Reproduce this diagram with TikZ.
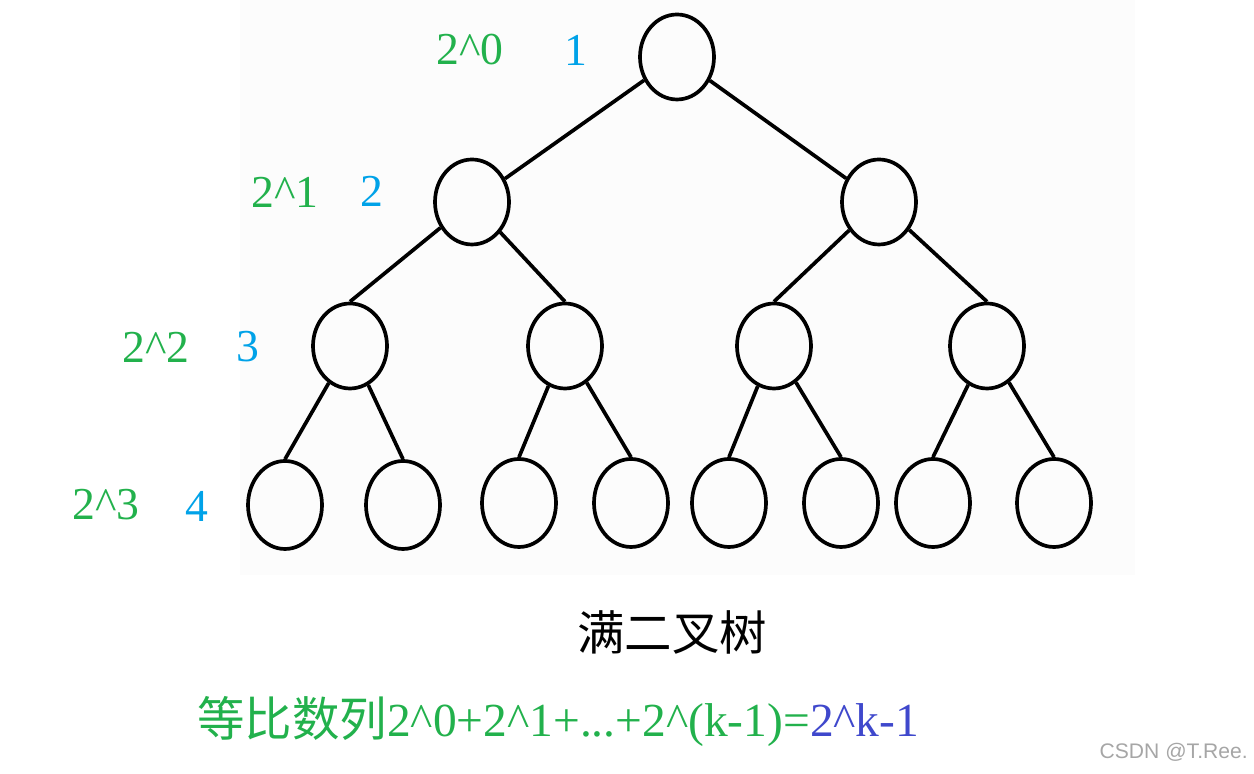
\documentclass[tikz,border=0pt]{standalone}
\usepackage{fontspec}
\setmainfont{Liberation Serif}
\setsansfont{Liberation Sans}
\newfontfamily\cjk{Noto Sans CJK SC}
\usepackage{tikz}
\usetikzlibrary{
    shapes.geometric
}
\definecolor{levgreen}{RGB}{34,177,76}
\definecolor{levblue}{RGB}{0,162,232}
\definecolor{sumblue}{RGB}{63,72,204}
\tikzset{
    vert/.style={ellipse,draw,line width=2.1pt,minimum width=1.48cm,minimum height=1.7cm,inner sep=0pt},
    lev/.style={font=\fontsize{26}{30}\selectfont},
    edge/.style={line width=2.1pt}
}

\begin{document}
\begin{tikzpicture}
%\draw [help lines](0,0) grid (25,15);
\useasboundingbox (0,0) rectangle (25.08,15.48);
\fill [black!1] (4.8,3.98) rectangle (22.7,15.48);
\node [vert] (R) at (13.54,14.34) {};
\node [vert] (A) at (9.44,11.44) {};
\node [vert] (B) at (17.58,11.44) {};
\node [vert] (AA) at (7.0,8.56) {};
\node [vert] (AB) at (11.3,8.56) {};
\node [vert] (BA) at (15.48,8.56) {};
\node [vert] (BB) at (19.74,8.56) {};
\node [vert,minimum height=1.76cm] (AAA) at (5.7,5.38) {};
\node [vert,minimum height=1.76cm] (AAB) at (8.06,5.38) {};
\node [vert,minimum height=1.76cm] (ABA) at (10.38,5.42) {};
\node [vert,minimum height=1.76cm] (ABB) at (12.62,5.42) {};
\node [vert,minimum height=1.76cm] (BAA) at (14.58,5.42) {};
\node [vert,minimum height=1.76cm] (BAB) at (16.82,5.42) {};
\node [vert,minimum height=1.76cm] (BBA) at (18.66,5.42) {};
\node [vert,minimum height=1.76cm] (BBB) at (21.08,5.42) {};
\draw [edge] (R) -- (A);
\draw [edge] (R) -- (B);
\draw [edge] (A) -- (AA.north);
\draw [edge] (A) -- (AB.north);
\draw [edge] (B) -- (BA.north);
\draw [edge] (B) -- (BB.north);
\draw [edge] (AA) -- (AAA.north);
\draw [edge] (AA) -- (AAB.north);
\draw [edge] (AB) -- (ABA.north);
\draw [edge] (AB) -- (ABB.north);
\draw [edge] (BA) -- (BAA.north);
\draw [edge] (BA) -- (BAB.north);
\draw [edge] (BB) -- (BBA.north);
\draw [edge] (BB) -- (BBB.north);
\node [lev,text=levgreen] (P0) at (9.4,14.48) {2\textasciicircum0};
\node [lev,text=levblue] (N1) at (11.52,14.48) {1};
\node [lev,text=levgreen] (P1) at (5.7,11.64) {2\textasciicircum1};
\node [lev,text=levblue] (N2) at (7.44,11.66) {2};
\node [lev,text=levgreen] (P2) at (3.12,8.54) {2\textasciicircum2};
\node [lev,text=levblue] (N3) at (4.96,8.54) {3};
\node [lev,text=levgreen] (P3) at (2.12,5.38) {2\textasciicircum3};
\node [lev,text=levblue] (N4) at (3.94,5.36) {4};
\node [font=\fontsize{27}{31}\selectfont\cjk] (title) at (13.44,2.84) {满二叉树};
\node [anchor=west,inner sep=0pt,font=\fontsize{27}{32}\selectfont,text=levgreen] (sum) at (3.94,1.04)
    {{\cjk 等比数列}2\textasciicircum0+2\textasciicircum1+...+2\textasciicircum(k-1)={\color{sumblue}2\textasciicircum k-1}};
\node [anchor=east,inner sep=0pt,font=\sffamily\fontsize{12}{14}\selectfont,text=black!35] (mark) at (24.96,0.44) {CSDN @T.Ree.};
\end{tikzpicture}
\end{document}
